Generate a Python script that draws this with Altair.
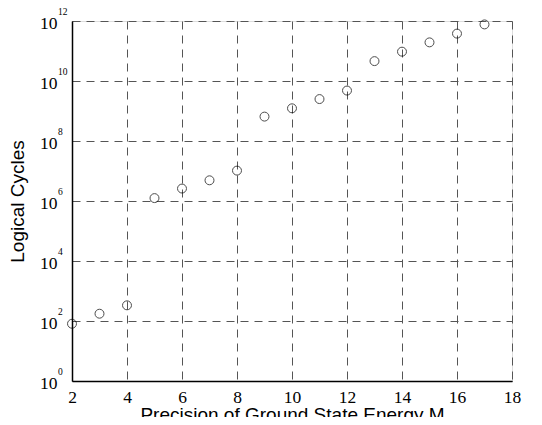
import altair as alt
import pandas as pd

precision = [2, 3, 4, 5, 6, 7, 8, 9, 10, 11, 12, 13, 14, 15, 16, 17]
cycles = [81, 175, 333, 1.25e6, 2.6e6, 4.9e6, 1.03e7, 6.5e8, 1.23e9, 2.5e9,
          4.8e9, 4.6e10, 9.5e10, 1.94e11, 3.8e11, 7.7e11]
exponents = [0, 2, 4, 6, 8, 10, 12]
x_ticks = [2, 4, 6, 8, 10, 12, 14, 16, 18]

df = pd.DataFrame({"M": precision, "cycles": cycles})
exp_df = pd.DataFrame({"e": [str(e) for e in exponents],
                       "v": [10.0 ** e for e in exponents]})

SERIF = "Liberation Serif, Times New Roman, DejaVu Serif, serif"
SANS = "Liberation Sans, Arial, sans-serif"

xscale = alt.Scale(domain=[2, 18], nice=False, zero=False)
yscale = alt.Scale(type="log", domain=[1, 1e12], nice=False)

grid_kw = dict(grid=True, gridColor="#555", gridDash=[8, 6], gridWidth=1,
               domainColor="black", domainWidth=1.5, ticks=False, tickSize=0)

points = alt.Chart(df).mark_point(
    shape="circle", filled=False, color="black", size=80, strokeWidth=1, clip=False
).encode(
    x=alt.X("M:Q", scale=xscale,
            axis=alt.Axis(values=x_ticks, title="Precision of Ground State Energy M",
                          labelFont=SERIF, labelFontSize=17.5,
                          labelColor="black", labelPadding=7,
                          titleFont=SANS, titleFontSize=19,
                          titleFontWeight="normal", titleColor="black",
                          titlePadding=0, labelFlush=False, **grid_kw)),
    y=alt.Y("cycles:Q", scale=yscale,
            axis=alt.Axis(values=[10.0 ** e for e in exponents], labelExpr="'10'",
                          title="Logical Cycles",
                          labelFont=SERIF, labelFontSize=17.5,
                          labelColor="black", labelPadding=15, labelOffset=2,
                          labelBaseline="middle", labelFlush=False,
                          titleFont=SANS, titleFontSize=19,
                          titleFontWeight="normal", titleColor="black",
                          titlePadding=12, **grid_kw)),
)

sup = alt.Chart(exp_df).mark_text(
    align="left", baseline="alphabetic", dy=-6, font=SERIF,
    fontSize=9.5, color="black", clip=False
).encode(
    x=alt.value(-14),
    y=alt.Y("v:Q", scale=yscale),
    text="e:N",
)

chart = alt.layer(points, sup).properties(
    width=440, height=360,
    autosize=alt.AutoSizeParams(type="none"),
    padding={"left": 64, "top": 13, "right": 22, "bottom": 36},
).configure_view(stroke="black", strokeWidth=1.5).configure(background="white")

chart.save("out.html", embed_options={"renderer": "svg", "actions": False})
